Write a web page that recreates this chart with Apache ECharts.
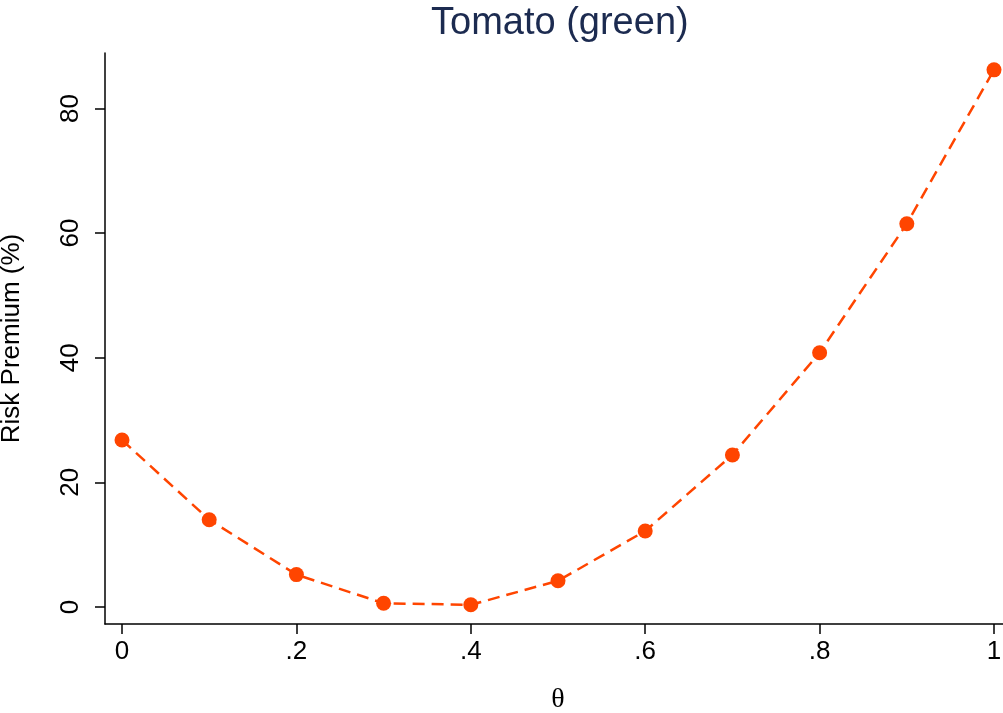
<!DOCTYPE html>
<html>
<head>
<meta charset="utf-8">
<script src="https://cdn.jsdelivr.net/npm/echarts@6/dist/echarts.min.js"></script>
<style>html,body{margin:0;padding:0;background:#fff}#c{width:1003px;height:713px}</style>
</head>
<body>
<div id="c"></div>
<script>
var thetaValues = [0, 0.1, 0.2, 0.3, 0.4, 0.5, 0.6, 0.7, 0.8, 0.9, 1.0];
var riskPremium = [26.8, 14.0, 5.2, 0.6, 0.35, 4.2, 12.2, 24.4, 40.8, 61.5, 86.2];
var xTicks = [0, 0.2, 0.4, 0.6, 0.8, 1];
var yTicks = [0, 20, 40, 60, 80];

function fmtX(v) {
  if (Math.abs(v) < 1e-9) return '0';
  if (Math.abs(v - 1) < 1e-9) return '1';
  return '.' + Math.round(v * 10);
}

var chart = echarts.init(document.getElementById('c'), null, {renderer: 'canvas'});
var textCol = '#000';
chart.setOption({
  animation: false,
  backgroundColor: '#fff',
  title: {
    text: 'Tomato (green)',
    left: 431, top: 5, padding: 0,
    textStyle: {fontFamily: 'Liberation Sans, Arial, sans-serif', fontSize: 38, fontWeight: 'normal', color: '#1c2b50'}
  },
  grid: {left: 105, right: 0, top: 53, bottom: 89, containLabel: false, outerBoundsMode: 'none'},
  xAxis: {
    type: 'value',
    min: -0.0195, max: 1.0103,
    name: 'θ', nameLocation: 'middle', nameGap: 62,
    nameTextStyle: {fontFamily: 'Liberation Serif, serif', fontSize: 28, color: textCol, padding: [0, 0, 0, 8]},
    axisLine: {show: true, onZero: false, lineStyle: {color: '#000', width: 1.5}},
    axisTick: {show: true, length: 10, customValues: xTicks, lineStyle: {color: '#000', width: 1.5}},
    axisLabel: {customValues: xTicks, formatter: fmtX, margin: 15, fontFamily: 'Liberation Sans, Arial, sans-serif', fontSize: 26, color: textCol},
    splitLine: {show: false}
  },
  yAxis: {
    type: 'value',
    min: -2.73, max: 88.9,
    name: 'Risk Premium (%)', nameLocation: 'middle', nameGap: 80, nameRotate: 90,
    nameTextStyle: {fontFamily: 'Liberation Sans, Arial, sans-serif', fontSize: 26, color: textCol},
    axisLine: {show: true, onZero: false, lineStyle: {color: '#000', width: 1.5}},
    axisTick: {show: true, length: 10, customValues: yTicks, lineStyle: {color: '#000', width: 1.5}},
    axisLabel: {customValues: yTicks, rotate: 90, margin: 21, fontFamily: 'Liberation Sans, Arial, sans-serif', fontSize: 26, color: textCol},
    splitLine: {show: false}
  },
  series: [{
    type: 'line',
    data: thetaValues.map(function (t, i) { return [t, riskPremium[i]]; }),
    smooth: false,
    symbol: 'circle', symbolSize: 15,
    itemStyle: {color: '#ff4500'},
    lineStyle: {color: '#ff4500', width: 2.5, type: [12, 7]}
  }]
});
</script>
</body>
</html>
